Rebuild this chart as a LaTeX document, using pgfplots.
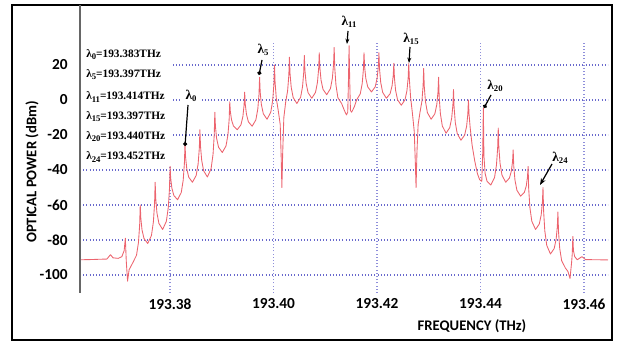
\documentclass[border=0pt]{standalone}
\usepackage{pgfplots}
\usepackage{pgfplotstable}
\pgfplotsset{compat=1.18}
\usepackage{fontspec}
\setmainfont{Carlito}
\newfontfamily\lamfont{Liberation Serif}
\usetikzlibrary{arrows.meta}

\definecolor{spec}{RGB}{236,100,110}
\definecolor{gridc}{RGB}{105,105,205}

% Optical comb spectrum: x = frequency offset from 193.38 THz in GHz, y = power in dBm
\pgfplotstableread{
x y
-17.39 -91.3
-15.5 -91.2
-13.5 -91.0
-12.2 -90.9
-11.5 -88.4
-11.0 -90.2
-10.0 -90.5
-9.3 -89.5
-8.85 -86
-8.63 -79
-8.45 -92
-8.2 -103.5
-7.9 -97
-7.19 -93
-6.469 -88.7
-6.094 -81.45
-5.863 -71.55
-5.748 -60
-5.633 -67.7
-5.402 -74.3
-5.027 -79.1
-4.307 -82
-3.586 -77.45
-3.211 -69.75
-2.98 -59.25
-2.865 -47
-2.75 -56.45
-2.519 -64.55
-2.144 -70.49
-1.424 -74
-0.703 -69.32
-0.328 -61.4
-0.097 -50.6
0.018 -38
0.133 -44.65
0.364 -50.35
0.739 -54.53
1.459 -57
2.179 -52.84
2.554 -45.8
2.785 -36.2
2.9 -25
3.015 -32.7
3.246 -39.3
3.621 -44.14
4.341 -47
5.062 -43.1
5.437 -36.5
5.668 -27.5
5.783 -17
5.898 -26.45
6.129 -34.55
6.504 -40.49
7.224 -44
7.944 -39.19
8.319 -31.05
8.55 -19.95
8.665 -7
8.78 -15.05
9.011 -21.95
9.386 -27.01
10.106 -30
10.827 -26.23
11.202 -19.85
11.433 -11.15
11.548 -1
11.663 -6.6
11.894 -11.4
12.269 -14.92
12.989 -17
13.709 -14.2
14.084 -9.48
14.315 -3.03
14.43 4.5
14.545 -2.33
14.776 -8.18
15.151 -12.47
15.871 -15
16.592 -11.36
16.967 -5.2
17.198 3.2
17.313 13
17.428 4.6
17.659 -2.6
18.034 -7.88
18.754 -11
19.474 -6.97
19.849 -0.15
20.08 9.15
20.195 20
20.31 10
20.541 1
20.916 -6
21.3 -14
21.5 -34
21.62 -50
21.78 -30
22.0 -10
22.357 -1.17
22.732 5.32
22.963 14.17
23.078 24.5
23.193 15.22
23.424 7.27
23.799 1.44
24.519 -2
25.239 1.57
25.614 7.62
25.845 15.87
25.96 25.5
26.075 16.92
26.306 9.57
26.681 4.18
27.401 1
28.122 4.38
28.497 10.1
28.728 17.9
28.843 27
28.958 18.6
29.189 11.4
29.564 6.12
30.284 3
31.004 6.51
31.379 12.45
31.61 20.55
31.725 30
31.84 18.4
32.071 8.55
32.446 1.29
33.166 -2
33.7 -6
34.1 -8.5
34.35 -7
34.493 12
34.608 31
34.723 12
34.87 -6
35.1 -7
35.6 -4
36.049 0
36.769 3.51
37.144 9.45
37.375 17.55
37.49 27
37.605 19.16
37.836 12.44
38.211 7.51
38.931 4.6
39.652 7.51
40.027 12.44
40.258 19.16
40.373 27
40.488 17.9
40.719 10.1
41.094 4.38
41.814 1
42.534 3.6
42.909 8
43.14 14
43.255 21
43.37 12.6
43.601 5.4
43.976 0.12
44.696 -3
45.417 0.12
45.792 5.4
46.023 12.6
46.138 21
46.253 12
46.484 2
46.859 -8
47.2 -18
47.4 -35
47.55 -50
47.72 -30
47.95 -14
48.299 -7.23
48.674 -0.85
48.905 7.85
49.02 18
49.135 7.85
49.366 -0.85
49.741 -7.23
50.461 -11
51.182 -7.88
51.557 -2.6
51.788 4.6
51.903 13
52.018 1.8
52.249 -7.8
52.624 -14.84
53.344 -19
54.064 -15.75
54.439 -10.25
54.67 -2.75
54.785 6
54.9 -4.15
55.131 -12.85
55.506 -19.23
56.226 -23
56.947 -20.01
57.322 -14.95
57.553 -8.05
57.668 0
57.783 -8
58.014 -16
58.389 -26
58.9 -35
59.4 -42
59.83 -45.5
60.25 -46.5
60.435 -30
60.55 -4.5
60.665 -32
60.896 -42
61.271 -46.5
61.991 -48.6
62.712 -44.36
63.087 -37.19
63.318 -27.41
63.433 -16
63.548 -26.85
63.779 -36.15
64.154 -42.97
64.874 -47
65.594 -44.6
65.969 -40.53
66.2 -34.98
66.315 -28.5
66.43 -37.78
66.661 -45.73
67.036 -51.56
67.756 -55
68.477 -52.79
68.852 -49.05
69.083 -43.95
69.198 -38
69.313 -50.6
69.544 -61.4
69.919 -69.32
70.639 -74
71.359 -70.88
71.734 -65.6
71.965 -58.4
72.08 -50
72.195 -63.3
72.426 -74.7
72.801 -83.06
73.521 -88
74.242 -84.88
74.617 -79.6
74.848 -72.4
74.963 -64
75.078 -75.2
75.309 -84.8
75.684 -91.84
76.404 -96
76.9 -98
77.3 -102
77.6 -93
77.73 -88
77.845 -78
77.96 -86
78.2 -89.5
78.7 -91.3
79.6 -89.5
80.3 -91.2
82.5 -91.3
84.64 -91.4
}\spectrum

\newcommand\lam[1]{λ\raisebox{-0.4ex}{\fontsize{6.5}{7}\selectfont#1}}

\begin{document}
\begin{tikzpicture}
\useasboundingbox (0,0) rectangle (464.25pt,258.75pt);
\begin{axis}[
  at={(60pt,39pt)}, anchor=south west,
  scale only axis, width=396pt, height=216pt,
  xmin=-17.39, xmax=84.64, ymin=-110.29, ymax=54.29,
  axis line style={draw=none},
  xtick={0,20,40,60,80},
  xticklabels={193.38,193.40,193.42,193.44,193.46},
  ytick={-100,-80,-60,-40,-20,0,20},
  major tick length=0pt,
  ymajorgrids,
  grid style={gridc, line width=0.8pt, dash pattern=on 0.8pt off 1.6pt},
  tick label style={font=\fontsize{11.5}{12}\selectfont\bfseries},
  /pgf/number format/assume math mode=true,
  yticklabel style={inner sep=0pt, xshift=-9pt},
  xticklabel style={inner sep=0pt, yshift=-4pt},
]
% vertical grid lines stop below the label area
\pgfplotsinvokeforeach{0,20,40,60,80}{
  \draw[gridc!75, line width=0.8pt, dash pattern=on 0.8pt off 1.6pt]
    (axis cs:#1,-110.29) -- (axis cs:#1,32.6);
}
% white panel behind the wavelength list
\fill[white] (axis cs:-17.39,-38.5) rectangle (axis cs:0.55,33.5);
\addplot[spec, line width=0.65pt, line join=round] table[x=x, y=y] {\spectrum};
\end{axis}

\begin{scope}[x=0.75pt, y=-0.75pt, shift={(0,258.75pt)}]
  \draw[line width=1.5pt] (12,5) rectangle (612,340);
  \draw[black!60, line width=1.1pt] (80,5) -- (80,293);

  \begin{scope}[every node/.style={anchor=west, inner sep=0pt,
      font=\lamfont\bfseries\fontsize{8.5}{9}\selectfont}]
    \node at (86,55)  {\lam{0}=193.383THz};
    \node at (86,75)  {\lam{5}=193.397THz};
    \node at (86,97)  {\lam{11}=193.414THz};
    \node at (86,117) {\lam{15}=193.397THz};
    \node at (86,137) {\lam{20}=193.440THz};
    \node at (86,157) {\lam{24}=193.452THz};
  \end{scope}

  \begin{scope}[every node/.style={inner sep=1pt,
      font=\lamfont\bfseries\fontsize{10}{11}\selectfont}]
    \node[fill=white, inner xsep=4pt] at (191,96) {\lam{0}};
    \node at (263,50)  {\lam{5}};
    \node at (349,22)  {\lam{11}};
    \node at (411,39)  {\lam{15}};
    \node at (495,86)  {\lam{20}};
    \node at (560,158) {\lam{24}};
  \end{scope}

  \draw[line width=0.9pt, -{Circle[length=3pt]}] (188,105) -- (185,146);
  \draw[line width=0.9pt, -{Circle[length=3pt]}] (262,60) -- (259,75);
  \draw[line width=0.9pt, -{Stealth[length=4pt]}] (348,31) -- (347,44);
  \draw[line width=0.9pt, -{Stealth[length=4pt]}] (410,47) -- (409,63);
  \draw[line width=0.9pt, -{Circle[length=3pt]}] (491,95) -- (484,108);
  \draw[line width=0.9pt, -{Stealth[length=5pt]}] (552,164) -- (540,185);

  \node[rotate=90, font=\bfseries\fontsize{11}{12}\selectfont] at (32,172)
    {OPTICAL POWER (dBm)};
  \node[font=\bfseries\fontsize{11}{12}\selectfont] at (472,326)
    {FREQUENCY (THz)};
\end{scope}
\end{tikzpicture}
\end{document}
